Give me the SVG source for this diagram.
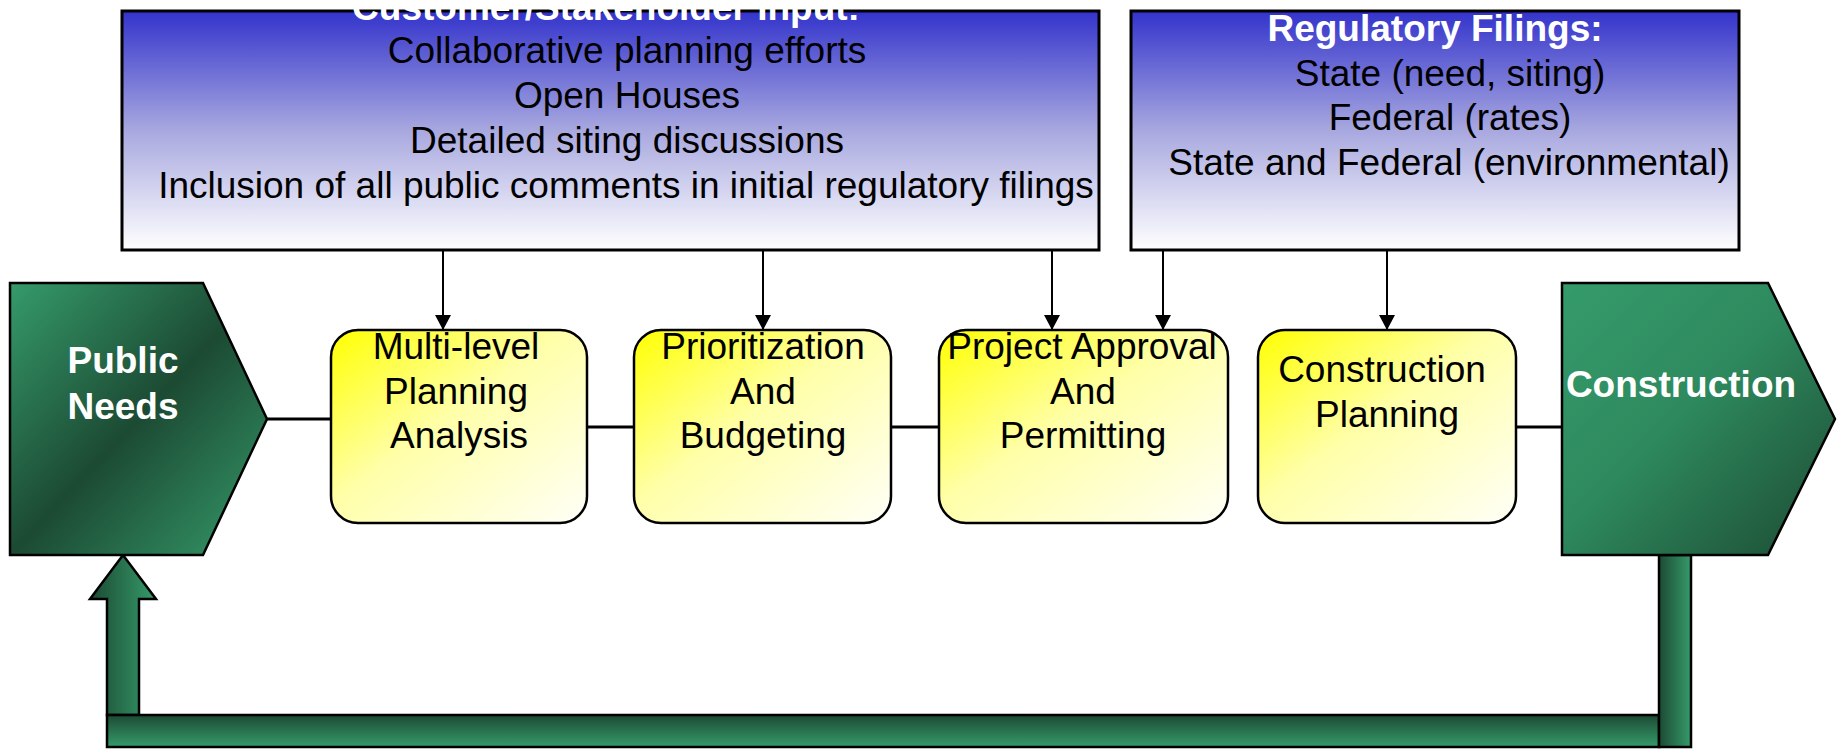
<svg xmlns="http://www.w3.org/2000/svg" width="1841" height="749" viewBox="0 0 1841 749">
<style>
  .t { font-family: "Liberation Sans", Arial, sans-serif; font-size: 37px; fill: #000; text-anchor: middle; }
  .w { font-family: "Liberation Sans", Arial, sans-serif; font-size: 37px; font-weight: bold; fill: #fff; text-anchor: middle; }
  .blue { fill: url(#gBlue); stroke: #000; stroke-width: 3; }
  .yel { fill: url(#gYel); stroke: #000; stroke-width: 2.5; }
  .con { stroke: #000; stroke-width: 3; fill: none; }
  .arr { stroke: #000; stroke-width: 2; fill: none; marker-end: url(#ah); }
  .gs { stroke: #000; stroke-width: 2.5; }
</style>
<defs>
  <linearGradient id="gBlue" x1="0" y1="0" x2="0" y2="1">
    <stop offset="0" stop-color="#3333cc"/>
    <stop offset="0.5" stop-color="#a8a8e0"/>
    <stop offset="1" stop-color="#ffffff"/>
  </linearGradient>
  <linearGradient id="gYel" x1="0" y1="0" x2="1" y2="1">
    <stop offset="0" stop-color="#ffff00"/>
    <stop offset="0.45" stop-color="#ffffa8"/>
    <stop offset="1" stop-color="#fffff8"/>
  </linearGradient>
  <linearGradient id="gPub" x1="0" y1="0" x2="1" y2="1">
    <stop offset="0" stop-color="#359b6b"/>
    <stop offset="0.5" stop-color="#1c4a33"/>
    <stop offset="1" stop-color="#359b6b"/>
  </linearGradient>
  <linearGradient id="gCon" x1="0" y1="0" x2="1" y2="1">
    <stop offset="0" stop-color="#359b6b"/>
    <stop offset="0.45" stop-color="#2e8a5e"/>
    <stop offset="1" stop-color="#1c4a33"/>
  </linearGradient>
  <linearGradient id="gH" x1="0" y1="0" x2="1" y2="0">
    <stop offset="0" stop-color="#1c4a33"/>
    <stop offset="1" stop-color="#359b6b"/>
  </linearGradient>
  <linearGradient id="gV" x1="0" y1="0" x2="0" y2="1">
    <stop offset="0" stop-color="#1c4a33"/>
    <stop offset="1" stop-color="#359b6b"/>
  </linearGradient>
  <marker id="ah" viewBox="0 0 15 16" refX="15" refY="8" markerWidth="15" markerHeight="16" markerUnits="userSpaceOnUse" orient="auto">
    <path d="M0,0 L15,8 L0,16 z" fill="#000"/>
  </marker>
</defs>

<g id="connectors">
  <line class="con" x1="267" y1="419" x2="331" y2="419"/>
  <line class="con" x1="587" y1="427" x2="634" y2="427"/>
  <line class="con" x1="891" y1="427" x2="939" y2="427"/>
  <line class="con" x1="1516" y1="427" x2="1562" y2="427"/>
  <line class="arr" x1="443" y1="251" x2="443" y2="330"/>
  <line class="arr" x1="763" y1="251" x2="763" y2="330"/>
  <line class="arr" x1="1052" y1="251" x2="1052" y2="330"/>
  <line class="arr" x1="1163" y1="251" x2="1163" y2="330"/>
  <line class="arr" x1="1387" y1="251" x2="1387" y2="330"/>
</g>

<g id="feedback-loop">
  <polygon class="gs" fill="url(#gH)" points="107,715 107,599 90,599 123,555 156,599 139,599 139,715"/>
  <rect class="gs" fill="url(#gV)" x="107" y="715" width="1552" height="32"/>
  <rect class="gs" fill="url(#gH)" x="1659" y="555" width="32" height="192"/>
</g>

<g id="stakeholder-input">
  <rect class="blue" x="122" y="11" width="977" height="239"/>
  <text class="w" x="606" y="20">Customer/Stakeholder Input:</text>
  <text class="t" x="627" y="63">Collaborative planning efforts</text>
  <text class="t" x="627" y="108">Open Houses</text>
  <text class="t" x="627" y="153">Detailed siting discussions</text>
  <text class="t" x="626" y="198">Inclusion of all public comments in initial regulatory filings</text>
</g>

<g id="regulatory-filings">
  <rect class="blue" x="1131" y="11" width="608" height="239"/>
  <text class="w" x="1435" y="41">Regulatory Filings:</text>
  <text class="t" x="1450" y="86">State (need, siting)</text>
  <text class="t" x="1450" y="130">Federal (rates)</text>
  <text class="t" x="1449" y="175">State and Federal (environmental)</text>
</g>

<g id="public-needs">
  <polygon class="gs" fill="url(#gPub)" points="10,283 203,283 267,419 203,555 10,555"/>
  <text class="w" x="123" y="373">Public</text>
  <text class="w" x="123" y="419">Needs</text>
</g>

<g id="multi-level-planning">
  <rect class="yel" x="331" y="330" width="256" height="193" rx="27" ry="27"/>
  <text class="t" x="456" y="359">Multi-level</text>
  <text class="t" x="456" y="404">Planning</text>
  <text class="t" x="459" y="448">Analysis</text>
</g>

<g id="prioritization">
  <rect class="yel" x="634" y="330" width="257" height="193" rx="27" ry="27"/>
  <text class="t" x="763" y="359">Prioritization</text>
  <text class="t" x="763" y="404">And</text>
  <text class="t" x="763" y="448">Budgeting</text>
</g>

<g id="project-approval">
  <rect class="yel" x="939" y="330" width="289" height="193" rx="27" ry="27"/>
  <text class="t" x="1082" y="359">Project Approval</text>
  <text class="t" x="1083" y="404">And</text>
  <text class="t" x="1083" y="448">Permitting</text>
</g>

<g id="construction-planning">
  <rect class="yel" x="1258" y="330" width="258" height="193" rx="27" ry="27"/>
  <text class="t" x="1382" y="382">Construction</text>
  <text class="t" x="1387" y="427">Planning</text>
</g>

<g id="construction">
  <polygon class="gs" fill="url(#gCon)" points="1562,283 1768,283 1835,419 1768,555 1562,555"/>
  <text class="w" x="1681" y="397">Construction</text>
</g>
</svg>
